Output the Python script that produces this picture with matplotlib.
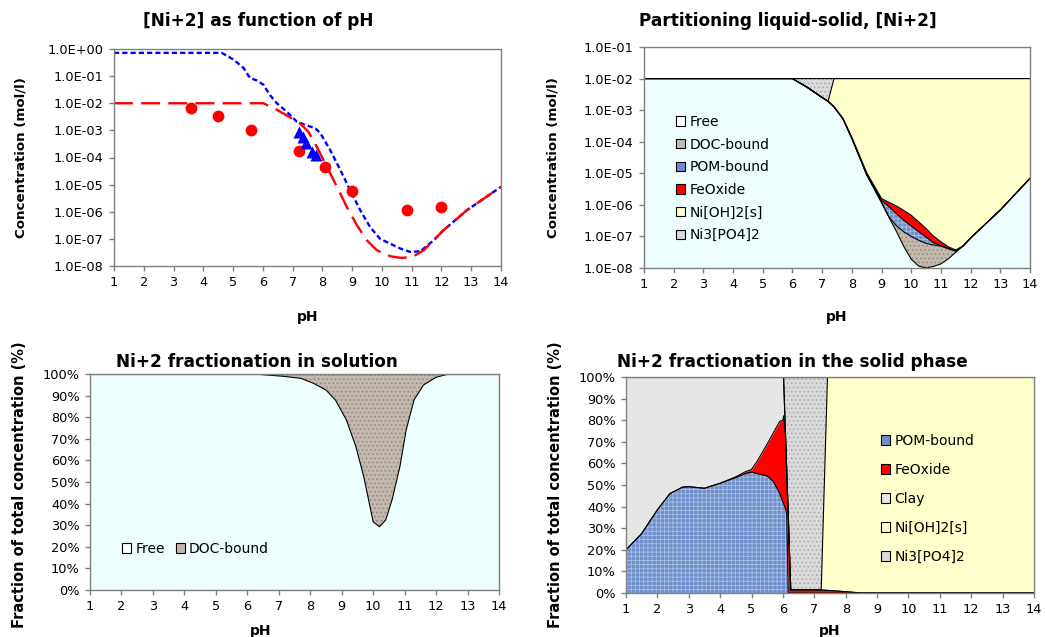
import numpy as np
import matplotlib
matplotlib.use("Agg")
import matplotlib.pyplot as plt
from matplotlib.patches import Patch
from matplotlib.ticker import FixedLocator, FuncFormatter

plt.rcParams['font.family'] = ['DejaVu Sans']
plt.rcParams['hatch.linewidth'] = 0.6

# ---------------- Panel 1 data : [Ni+2] as function of pH ----------------
ph_total = [1.0, 4.62, 5.01, 5.35, 5.57, 5.8, 6.02, 6.24, 6.47, 6.8, 7.14, 7.42, 7.76, 7.93,
            8.26, 8.6, 8.93, 9.27, 9.6, 9.94, 10.28, 10.62, 10.95, 11.29, 11.74, 12.07, 12.86, 14.0]
conc_total = [0.72, 0.72, 0.41, 0.20, 0.085, 0.069, 0.048, 0.020, 0.010, 4.9e-3, 2.1e-3, 1.6e-3,
              1.2e-3, 7.9e-4, 1.9e-4, 3.5e-5, 6.3e-6, 1.15e-6, 2.75e-7, 1.0e-7, 6.6e-8, 4.4e-8,
              3.3e-8, 3.5e-8, 8.9e-8, 2.1e-7, 1.15e-6, 8.3e-6]
ph_free = [1.0, 6.02, 6.47, 6.92, 7.25, 7.53, 7.81, 8.15, 8.49, 8.82, 9.16, 9.49, 9.83, 10.28,
           10.62, 11.01, 11.4, 11.74, 12.07, 12.86, 14.0]
conc_free = [1.0e-2, 1.0e-2, 5.75e-3, 3.0e-3, 1.8e-3, 8.9e-4, 2.5e-4, 4.6e-5, 8.3e-6, 1.5e-6,
             3.2e-7, 8.9e-8, 3.8e-8, 2.3e-8, 2.0e-8, 2.1e-8, 3.8e-8, 8.9e-8, 2.1e-7, 1.15e-6, 8.3e-6]
ph_circles = [3.6, 4.5, 5.6, 7.2, 8.1, 9.0, 10.85, 12.0]
conc_circles = [6.6e-3, 3.5e-3, 1.0e-3, 1.8e-4, 4.3e-5, 5.7e-6, 1.15e-6, 1.5e-6]
ph_triangles = [7.2, 7.35, 7.45, 7.65, 7.8]
conc_triangles = [8.5e-4, 5.5e-4, 3.5e-4, 1.6e-4, 1.2e-4]

# ---------------- Panel 2 data : partitioning liquid-solid ----------------
ph_part = [1, 2, 3, 4, 5, 6, 6.5, 7.0, 7.2, 7.4, 7.7, 8.0, 8.5, 9.0, 9.25, 9.5, 9.75, 10.0,
           10.25, 10.5, 10.75, 11.0, 11.25, 11.5, 11.75, 12.0, 13.0, 14.0]
part_free = [1e-2, 1e-2, 1e-2, 1e-2, 1e-2, 1e-2, 5.25e-3, 2.51e-3, 1.9e-3, 1.26e-3, 5.25e-4,
             1.26e-4, 8.91e-6, 1.175e-6, 4.07e-7, 1.445e-7, 4.79e-8, 1.905e-8, 1.148e-8, 1.0e-8,
             1.122e-8, 1.349e-8, 1.95e-8, 3.16e-8, 5.0e-8, 8.9e-8, 6.9e-7, 6.9e-6]
part_doc = [0, 0, 0, 0, 0, 0, 0, 0, 0, 5e-6, 3e-6, 1.5e-6, 1.1e-7, 1.4e-8, 5e-9, 7.4e-8, 9.2e-8,
            8.1e-8, 6.44e-8, 5.03e-8, 4.25e-8, 3.55e-8, 2.12e-8, 2.3e-9, 0, 0, 0, 0]
part_pom = [0, 0, 0, 0, 0, 0, 0, 0, 0, 8e-6, 5e-6, 2.9e-6, 3.1e-7, 1.91e-7, 4.59e-7, 3.06e-7,
            1.84e-7, 1.14e-7, 6.54e-8, 3.52e-8, 9.4e-9, 2.3e-9, 1.0e-9, 1.2e-9, 0, 0, 0, 0]
part_feox = [0, 0, 0, 0, 0, 0, 0, 0, 0, 1.5e-5, 1.7e-5, 7.7e-6, 1.14e-6, 2.05e-7, 3.31e-7,
             3.98e-7, 3.37e-7, 2.54e-7, 1.47e-7, 8.23e-8, 3.92e-8, 1.63e-8, 5.1e-9, 2.1e-9, 0, 0, 0, 0]
part_nioh2 = [0, 0, 0, 0, 0, 0, 0, 0, 0, 8.71e-3, 9.45e-3, 9.86e-3, 9.99e-3, 1e-2, 1e-2, 1e-2,
              1e-2, 1e-2, 1e-2, 1e-2, 1e-2, 1e-2, 1e-2, 1e-2, 1e-2, 1e-2, 1e-2, 1e-2]
part_ni3po4 = [0, 0, 0, 0, 0, 0, 4.75e-3, 7.49e-3, 8.1e-3, 0, 0, 0, 0, 0, 0, 0, 0, 0, 0, 0, 0,
               0, 0, 0, 0, 0, 0, 0]

# ---------------- Panel 3 data : fractionation in solution (%) ----------------
ph_sol = [1, 6.2, 7.1, 7.7, 8.1, 8.5, 8.8, 9.15, 9.45, 9.7, 9.9, 10.0, 10.2, 10.4, 10.6, 10.85,
          11.05, 11.3, 11.6, 12.0, 12.35, 12.6, 14]
sol_free = [100, 100, 99, 98, 95.7, 92.6, 88, 78.7, 66.4, 52.5, 38.6, 31.6, 29.3, 32.4, 41.7,
            57.1, 74.1, 88, 94.9, 98.5, 99.8, 100, 100]
sol_doc = [0, 0, 1, 2, 4.3, 7.4, 12, 21.3, 33.6, 47.5, 61.4, 68.4, 70.7, 67.6, 58.3, 42.9, 25.9,
           12, 5.1, 1.5, 0.2, 0, 0]

# ---------------- Panel 4 data : fractionation in solid phase (%) ----------------
ph_solid = [1.0, 1.5, 2.0, 2.4, 2.8, 3.0, 3.5, 4.0, 4.5, 4.8, 5.0, 5.2, 5.5, 5.7, 5.9, 6.0,
            6.02, 6.08, 6.12, 6.17, 6.25, 7.0, 7.22, 7.42, 8.0, 8.5, 9.0, 14.0]
solid_pom = [20, 27.5, 38.5, 46, 49, 49.2, 48.5, 50.8, 53.5, 55.3, 56, 55.2, 54.2, 51.5, 46, 42,
             41.5, 39, 37, 0, 0, 0, 0, 0, 0, 0, 0, 0]
solid_feox = [0, 0, 0, 0, 0, 0, 0, 0, 0.3, 0.8, 1.2, 6.3, 14.8, 22.8, 33.5, 38, 40.5, 35, 20, 36,
              1.5, 1.5, 1.4, 1.2, 0.6, 0, 0, 0]
solid_clay = [80, 72.5, 61.5, 54, 51, 50.8, 51.5, 49.2, 46.2, 43.9, 42.8, 38.5, 31, 25.7, 20.5,
              20, 18, 0, 0, 0, 0, 0, 0, 0, 0, 0, 0, 0]
solid_nioh2 = [0, 0, 0, 0, 0, 0, 0, 0, 0, 0, 0, 0, 0, 0, 0, 0, 0, 0, 0, 0, 0, 0, 0, 98.8, 99.4,
               100, 100, 100]
solid_ni3po4 = [0, 0, 0, 0, 0, 0, 0, 0, 0, 0, 0, 0, 0, 0, 0, 0, 0, 26, 43, 64, 98.5, 98.5, 98.6,
                0, 0, 0, 0, 0]

ph_ticks = list(range(1, 15))

# ---------------- styles ----------------
C_FREE = '#eefdfd'
C_DOC = '#c3b8ae'
C_DOC_H = '#8e847c'
C_POM = '#6f8fcc'
C_POM_H = '#a9bfe6'
C_FE = '#ff0000'
C_CLAY = '#e6e6e6'
C_NIOH = '#ffffcc'
C_NI3 = '#dadada'
C_NI3_H = '#a6a6a6'
SPINE = '#808080'

W, H = 1045, 637
fig = plt.figure(figsize=(W / 100, H / 100), dpi=100)


def axes_px(l, t, r, b):
    return fig.add_axes([l / W, 1 - b / H, (r - l) / W, (b - t) / H])


def style_axes(ax):
    for s in ax.spines.values():
        s.set_color(SPINE)
        s.set_linewidth(1.0)
    ax.tick_params(axis='both', direction='out', length=3.5, width=1, color=SPINE,
                   labelsize=9.3, pad=4)
    ax.set_xlim(1, 14)
    ax.xaxis.set_major_locator(FixedLocator(ph_ticks))
    ax.minorticks_off()


def stack(ax, x, comps, faces, hatches, hcols, base):
    cum = np.cumsum(np.vstack(comps).astype(float), axis=0)
    lower = np.full(len(x), base, dtype=float)
    for i in range(len(comps)):
        ax.fill_between(x, lower, cum[i], facecolor=faces[i], edgecolor=hcols[i],
                        hatch=hatches[i], linewidth=0)
        lower = cum[i]
    for i in range(len(comps)):
        ax.plot(x, cum[i], color='black', lw=0.8)


sci = FuncFormatter(lambda v, p: f"{v:.1E}")
pct = FuncFormatter(lambda v, p: f"{v:.0f}%")

# ---------- Panel 1 ----------
ax1 = axes_px(114, 49, 501, 266)
style_axes(ax1)
ax1.set_yscale('log')
ax1.set_ylim(1e-8, 1)
ax1.yaxis.set_major_locator(FixedLocator([10.0 ** k for k in range(-8, 1)]))
ax1.yaxis.set_major_formatter(sci)
ax1.minorticks_off()
ax1.plot(ph_total, conc_total, color='#0000ff', lw=1.7, dashes=(2.2, 1.3))
ax1.plot(ph_free, conc_free, color='#ff0000', lw=1.7, dashes=(8, 3.5))
ax1.plot(ph_circles, conc_circles, 'o', color='#ff0000', ms=8.5, mec='none')
ax1.plot(ph_triangles, conc_triangles, '^', color='#0000ff', ms=9, mec='none')

# ---------- Panel 2 ----------
ax2 = axes_px(644, 47, 1030, 268)
style_axes(ax2)
ax2.set_yscale('log')
ax2.set_ylim(1e-8, 1e-1)
ax2.yaxis.set_major_locator(FixedLocator([10.0 ** k for k in range(-8, 0)]))
ax2.yaxis.set_major_formatter(sci)
ax2.minorticks_off()
stack(ax2, ph_part,
      [part_free, part_doc, part_pom, part_feox, part_nioh2, part_ni3po4],
      [C_FREE, C_DOC, C_POM, C_FE, C_NIOH, C_NI3],
      [None, '....', '++++', None, None, '....'],
      [C_FREE, C_DOC_H, C_POM_H, C_FE, C_NIOH, C_NI3_H], 1e-10)
h2 = [Patch(facecolor='white', edgecolor='black', lw=0.8),
      Patch(facecolor=C_DOC, edgecolor='black', lw=0.8),
      Patch(facecolor=C_POM, edgecolor='black', lw=0.8),
      Patch(facecolor=C_FE, edgecolor='black', lw=0.8),
      Patch(facecolor=C_NIOH, edgecolor='black', lw=0.8),
      Patch(facecolor=C_NI3, edgecolor='black', lw=0.8)]
ax2.legend(h2, ['Free', 'DOC-bound', 'POM-bound', 'FeOxide', 'Ni[OH]2[s]', 'Ni3[PO4]2'],
           loc='upper left', bbox_to_anchor=(676 / W, 1 - 115 / H), bbox_transform=fig.transFigure,
           frameon=False, fontsize=10, handlelength=0.65, handleheight=0.65, handletextpad=0.3,
           labelspacing=0.62, borderpad=0, borderaxespad=0)

# ---------- Panel 3 ----------
ax3 = axes_px(90, 374, 499, 590)
style_axes(ax3)
ax3.set_ylim(0, 100)
ax3.yaxis.set_major_locator(FixedLocator(list(range(0, 101, 10))))
ax3.yaxis.set_major_formatter(pct)
stack(ax3, ph_sol, [sol_free, sol_doc], [C_FREE, C_DOC], [None, '....'], [C_FREE, C_DOC_H], 0)
h3 = [Patch(facecolor='white', edgecolor='black', lw=0.8),
      Patch(facecolor=C_DOC, edgecolor='black', lw=0.8)]
ax3.legend(h3, ['Free', 'DOC-bound'], ncol=2, loc='upper left',
           bbox_to_anchor=(122 / W, 1 - 542 / H), bbox_transform=fig.transFigure,
           frameon=False, fontsize=10, handlelength=0.65, handleheight=0.65, handletextpad=0.3,
           columnspacing=0.8, borderpad=0, borderaxespad=0)

# ---------- Panel 4 ----------
ax4 = axes_px(626, 377, 1034, 593)
style_axes(ax4)
ax4.set_ylim(0, 100)
ax4.yaxis.set_major_locator(FixedLocator(list(range(0, 101, 10))))
ax4.yaxis.set_major_formatter(pct)
stack(ax4, ph_solid, [solid_pom, solid_feox, solid_clay, solid_nioh2, solid_ni3po4],
      [C_POM, C_FE, C_CLAY, C_NIOH, C_NI3],
      ['++++', None, None, None, '....'],
      [C_POM_H, C_FE, C_CLAY, C_NIOH, C_NI3_H], 0)
h4 = [Patch(facecolor=C_POM, edgecolor='black', lw=0.8),
      Patch(facecolor=C_FE, edgecolor='black', lw=0.8),
      Patch(facecolor=C_CLAY, edgecolor='black', lw=0.8),
      Patch(facecolor=C_NIOH, edgecolor='black', lw=0.8),
      Patch(facecolor=C_NI3, edgecolor='black', lw=0.8)]
ax4.legend(h4, ['POM-bound', 'FeOxide', 'Clay', 'Ni[OH]2[s]', 'Ni3[PO4]2'],
           loc='upper left', bbox_to_anchor=(881 / W, 1 - 434 / H), bbox_transform=fig.transFigure,
           frameon=False, fontsize=10, handlelength=0.65, handleheight=0.65, handletextpad=0.3,
           labelspacing=1.08, borderpad=0, borderaxespad=0)


# ---------- texts ----------
def ftext(x, y, s, size, rot=0):
    fig.text(x / W, 1 - y / H, s, ha='center', va='center', fontsize=size,
             fontweight='bold', rotation=rot)


ftext(258, 21, '[Ni+2] as function of pH', 12.2)
ftext(788, 21, 'Partitioning liquid-solid, [Ni+2]', 12.2)
ftext(257, 362, 'Ni+2 fractionation in solution', 12.2)
ftext(792, 362, 'Ni+2 fractionation in the solid phase', 12.2)
ftext(308, 317, 'pH', 10)
ftext(837, 317, 'pH', 10)
ftext(261, 631, 'pH', 10)
ftext(830, 631, 'pH', 10)
ftext(21, 158, 'Concentration (mol/l)', 9.6, 90)
ftext(553, 158, 'Concentration (mol/l)', 9.6, 90)
ftext(20, 485, 'Fraction of total concentration (%)', 10.5, 90)
ftext(556, 485, 'Fraction of total concentration (%)', 10.5, 90)

fig.savefig('out.png', dpi=100)
